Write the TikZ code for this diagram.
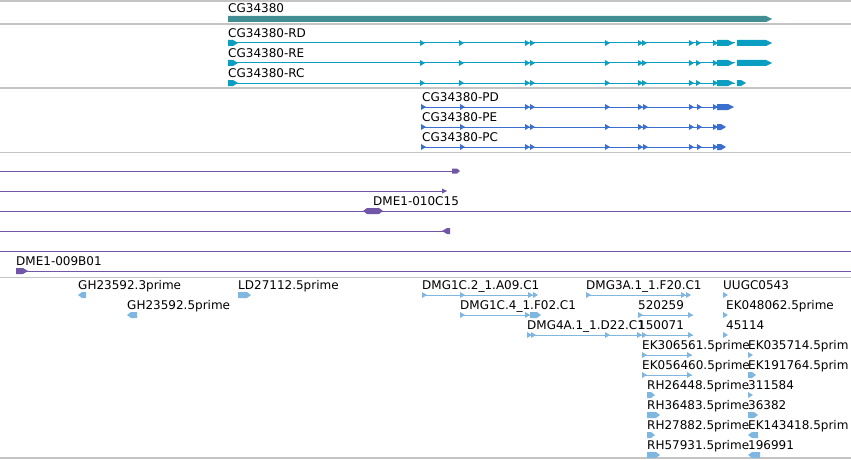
\documentclass[tikz,border=0pt]{standalone}
\usepackage{fontspec}
\setmainfont{DejaVu Sans}
\usepackage{tikz}
\usepackage{xcolor}

\begin{document}
\begin{tikzpicture}[x=1pt,y=-1pt,
  lbl/.style={anchor=base west,inner sep=0pt,font=\fontsize{12}{14}\selectfont},
  sep/.style={draw=rule,line width=1.3pt},
  thin/.style={line width=1pt},
  mk/.pic={\fill (0,-3) -- (5,0) -- (0,3) -- cycle;}]
\definecolor{rule}{HTML}{C4C4C4}
\definecolor{gene}{HTML}{418E93}
\definecolor{tx}{HTML}{0A9EC2}
\definecolor{prot}{HTML}{3A6FCF}
\definecolor{clone}{HTML}{7256A8}
\definecolor{est}{HTML}{7FB7E0}
\useasboundingbox (0,0) rectangle (851,460);
% track separators
\foreach \y in {1,24,88,152.5,277.5,458}
  \draw[sep] (0,\y) -- (851,\y);
% gene
\node[lbl] (gene) at (228,12.7) {CG34380};
\fill[gene] (228,16) -- (766,16) -- (772,19) -- (766,22) -- (228,22) -- cycle;
% transcripts
\foreach \n/\y in {RD/43,RE/63,RC/83}{
  \node[lbl] (tx\n) at (228,\y-5.6) {CG34380-\n};
  \draw[tx,thin] (228,\y) -- (735,\y);
  \fill[tx] (228,\y-3) -- (233,\y-3) -- (238,\y) -- (233,\y+3) -- (228,\y+3) -- cycle;
  \foreach \x in {420,459,525,530,605,638,642,689,696,713}
    \pic[tx] at (\x,\y) {mk};
  \fill[tx] (717,\y-3) -- (728,\y-3) -- (734,\y) -- (728,\y+3) -- (717,\y+3) -- cycle;
}
\foreach \y in {43,63}
  \fill[tx] (737,\y-3) -- (766,\y-3) -- (772,\y) -- (766,\y+3) -- (737,\y+3) -- cycle;
\fill[tx] (737,80) -- (741,80) -- (746,83) -- (741,86) -- (737,86) -- cycle;
% proteins
\foreach \n/\y in {PD/107,PE/127,PC/147}{
  \node[lbl] (pr\n) at (422,\y-5.6) {CG34380-\n};
  \draw[prot,thin] (421,\y) -- (720,\y);
  \foreach \x in {421,460,525,530,605,638,643,689,697,713}
    \pic[prot] at (\x,\y) {mk};
}
\fill[prot] (717,104) -- (728,104) -- (734,107) -- (728,110) -- (717,110) -- cycle;
\foreach \y in {127,147}
  \fill[prot] (717,\y-3) -- (721,\y-3) -- (726,\y) -- (721,\y+3) -- (717,\y+3) -- cycle;
% clones
\draw[clone,thin] (0,171) -- (452,171);
\fill[clone] (452,168.5) -- (457,168.5) -- (460,171) -- (457,173.5) -- (452,173.5) -- cycle;
\draw[clone,thin] (0,191) -- (443,191);
\fill[clone] (442,188.5) -- (447,191) -- (442,193.5) -- cycle;
\draw[clone,thin] (0,211) -- (851,211);
\fill[clone] (363,211) -- (367,208) -- (379,208) -- (383,211) -- (379,214) -- (367,214) -- cycle;
\node[lbl] (cl1) at (373,205) {DME1-010C15};
\draw[clone,thin] (0,231) -- (450,231);
\fill[clone] (442,231) -- (447,228) -- (450,228) -- (450,234) -- (447,234) -- cycle;
\draw[clone,thin] (0,251) -- (851,251);
\draw[clone,thin] (16,271) -- (851,271);
\fill[clone] (16,268) -- (23,268) -- (28,271) -- (23,274) -- (16,274) -- cycle;
\node[lbl] (cl2) at (16,265) {DME1-009B01};
% ESTs
\foreach \t/\x/\y [count=\i] in {GH23592.3prime/78/295,GH23592.5prime/127/315,
    LD27112.5prime/238/295,DMG1C.2\_1.A09.C1/422/295,DMG1C.4\_1.F02.C1/460/315,
    DMG4A.1\_1.D22.C1/527/335,DMG3A.1\_1.F20.C1/586/295,520259/638/315,150071/638/335,
    EK306561.5prime/642/355,EK056460.5prime/642/375,RH26448.5prime/647/395,
    RH36483.5prime/647/415,RH27882.5prime/647/435,RH57931.5prime/647/455,
    UUGC0543/723/295,EK048062.5prime/726/315,45114/726/335,EK035714.5prim/748/355,
    EK191764.5prim/748/375,311584/748/395,36382/748/415,EK143418.5prim/748/435,196991/748/455}
  \node[lbl] (est\i) at (\x,\y-6) {\t};
% est lines with exon marks
\foreach \a/\b/\y in {422/535/295,586/690/295,460/535/315,638/693/315,527/693/335,642/692/355,642/692/375}
  \draw[est,thin] (\a,\y) -- (\b,\y);
\foreach \x/\y in {422/295,460/295,528/295,533/295,586/295,681/295,686/295,723/295,
    460/315,525/315,638/315,688/315,723/315,
    527/335,531/335,605/335,637/335,642/335,688/335,723/335,
    642/355,687/355,748/355,642/375,687/375,748/395}
  \pic[est] at (\x,\y) {mk};
% forward blocks
\foreach \a/\b/\y in {238/251/295,530/541/315,748/756/375,647/655/395,647/660/415,748/758/415,647/655/435,647/660/455}
  \fill[est] (\a,\y-3) -- (\b-4,\y-3) -- (\b,\y) -- (\b-4,\y+3) -- (\a,\y+3) -- cycle;
% reverse blocks
\foreach \a/\b/\y in {78/86/295,127/137/315,748/758/435,748/760/455}
  \fill[est] (\a,\y) -- (\a+4,\y-3) -- (\b,\y-3) -- (\b,\y+3) -- (\a+4,\y+3) -- cycle;
\end{tikzpicture}
\end{document}
